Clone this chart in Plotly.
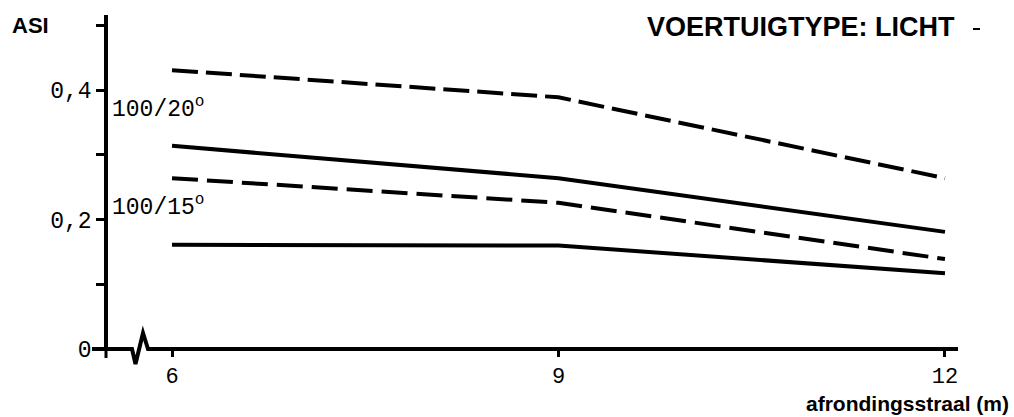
import plotly.graph_objects as go

# Data
radius = [6, 9, 12]
asi_100_20_dashed = [0.431, 0.389, 0.264]
asi_100_20_solid = [0.314, 0.264, 0.181]
asi_100_15_dashed = [0.264, 0.226, 0.139]
asi_100_15_solid = [0.161, 0.160, 0.117]

x_ticks = [6, 9, 12]
x_ticktext = ["6", "9", "12"]
y_ticks = [0, 0.2, 0.4]
y_ticktext = ["0", "0,2", "0,4"]
y_minor_step = 0.1

W, H = 1014, 417
L, R, T, B = 92, 56, 15, 68
PW, PH = W - L - R, H - T - B


def px(xp):
    return (xp - L) / PW


def py(yp):
    return (H - B - yp) / PH


mono = "Liberation Mono"
sans = "Liberation Sans"

fig = go.Figure()
series = [
    (asi_100_20_dashed, "26px,8px"),
    (asi_100_20_solid, "solid"),
    (asi_100_15_dashed, "26px,9px"),
    (asi_100_15_solid, "solid"),
]
for ys, dash in series:
    fig.add_trace(go.Scatter(x=radius, y=ys, mode="lines",
                             line=dict(color="black", width=4, dash=dash),
                             showlegend=False, hoverinfo="skip"))

x0 = 6 - (172 - L) / 128.83
x1 = 6 + (W - R - 172) / 128.83

fig.update_layout(
    width=W, height=H,
    margin=dict(l=L, r=R, t=T, b=B, pad=0),
    paper_bgcolor="white", plot_bgcolor="white",
    xaxis=dict(range=[x0, x1], showgrid=False, zeroline=False, showline=False,
               tickvals=x_ticks, ticktext=x_ticktext, ticks="outside",
               ticklen=7, tickwidth=2.5, tickcolor="black",
               tickfont=dict(family=mono, size=22, color="black")),
    yaxis=dict(range=[0, (H - B - T) / 647], showgrid=False, zeroline=False,
               showline=True, linecolor="black", linewidth=3.5,
               anchor="free", position=px(106),
               tickvals=y_ticks, ticktext=y_ticktext, ticks="outside",
               ticklen=8, tickwidth=2.5, tickcolor="black",
               minor=dict(dtick=y_minor_step, tick0=0, ticks="outside",
                          ticklen=8, tickwidth=2.5, tickcolor="black",
                          showgrid=False),
               tickfont=dict(family=mono, size=23, color="black")),
)

# x axis line with axis-break squiggle
path = (f"M {px(92)},{py(349)} L {px(132)},{py(349)} L {px(135.5)},{py(364)} "
        f"L {px(143)},{py(333)} L {px(148)},{py(349)} L {px(958)},{py(349)}")
fig.add_shape(type="path", xref="paper", yref="paper", path=path,
              line=dict(color="black", width=4), layer="above")
# y axis extension below x axis
fig.add_shape(type="line", xref="paper", yref="paper",
              x0=px(106), x1=px(106), y0=py(349), y1=py(358),
              line=dict(color="black", width=3))
# small dash after title
fig.add_shape(type="line", xref="paper", yref="paper",
              x0=px(973), x1=px(980), y0=py(29), y1=py(29),
              line=dict(color="black", width=2))

fig.add_annotation(text="<b>ASI</b>", xref="paper", yref="paper",
                   x=px(10), y=py(26), xanchor="left", yanchor="middle",
                   showarrow=False, font=dict(family=sans, size=22, color="black"))
fig.add_annotation(text="<b>VOERTUIGTYPE: LICHT</b>", xref="paper", yref="paper",
                   x=px(957), y=py(27), xanchor="right", yanchor="middle",
                   showarrow=False, font=dict(family=sans, size=27, color="black"))
fig.add_annotation(text="<b>afrondingsstraal (m)</b>", xref="paper", yref="paper",
                   x=px(1011), y=py(403), xanchor="right", yanchor="middle",
                   showarrow=False, font=dict(family=sans, size=21, color="black"))
fig.add_annotation(text="100/20<sup>o</sup>", xref="paper", yref="paper",
                   x=px(110), y=py(108), xanchor="left", yanchor="middle",
                   showarrow=False, font=dict(family=mono, size=23, color="black"))
fig.add_annotation(text="100/15<sup>o</sup>", xref="paper", yref="paper",
                   x=px(110), y=py(206), xanchor="left", yanchor="middle",
                   showarrow=False, font=dict(family=mono, size=23, color="black"))

fig.write_html("out.html")
